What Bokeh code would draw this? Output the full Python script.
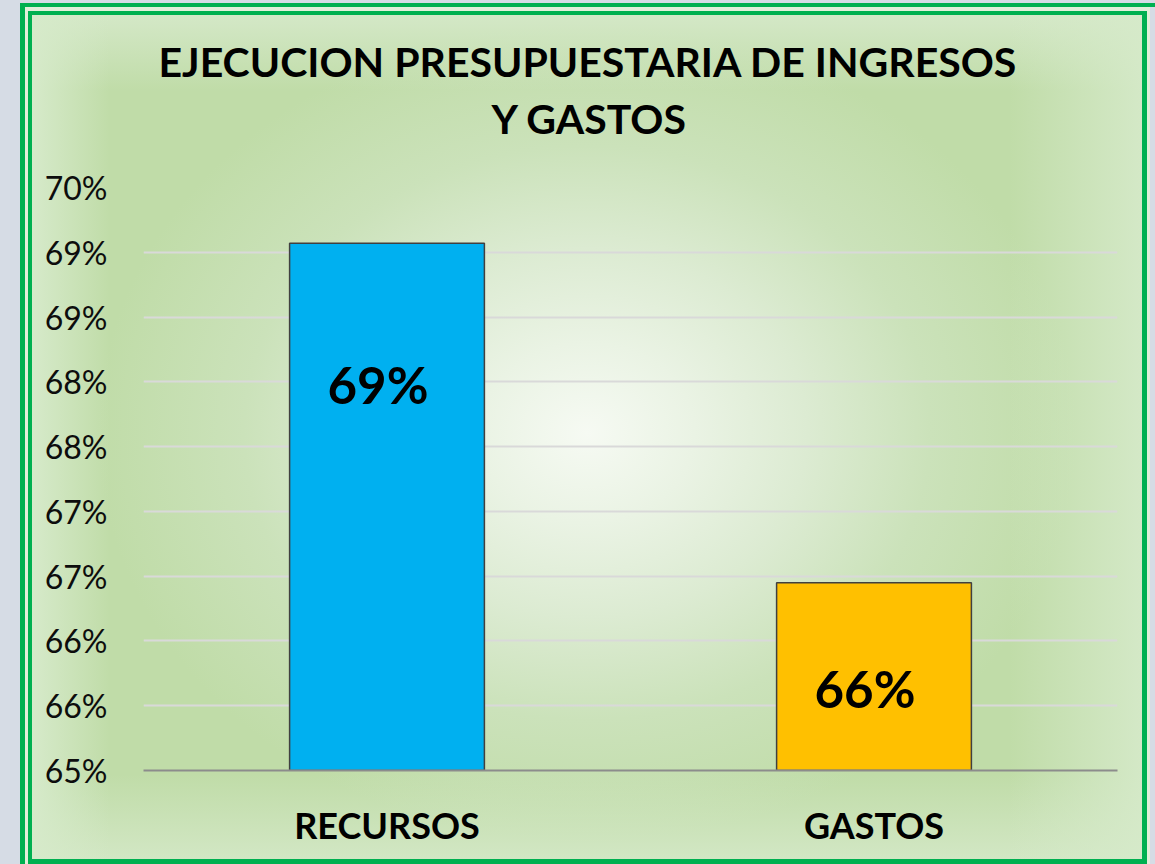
from bokeh.plotting import figure
from bokeh.models import (Range1d, FixedTicker, Title, ColumnDataSource,
                          FactorRange, CustomJSTickFormatter)
from bokeh.core.properties import value
from bokeh.embed import file_html
from bokeh.resources import INLINE

# ---------------- data ----------------
categories = ["RECURSOS", "GASTOS"]
values = [0.6907, 0.6645]
bar_colors = ["#00B0F0", "#FFC000"]
tick_values = [0.65, 0.655, 0.66, 0.665, 0.67, 0.675, 0.68, 0.685, 0.69, 0.695]
tick_labels = ["65%", "66%", "66%", "67%", "67%", "68%", "68%", "69%", "69%", "70%"]
title_lines = ["EJECUCION PRESUPUESTARIA DE INGRESOS", "Y GASTOS"]

# ---------------- styles ----------------
FONT = "Lato"
label_drop_px = [141, 106]     # label distance below bar top (style)
W, H = 1155, 864

p = figure(x_range=FactorRange(*categories), y_range=Range1d(0.65, 0.695),
           width=W, height=H, output_backend="svg", toolbar_location=None,
           min_border_left=143, min_border_right=38, min_border_top=187,
           min_border_bottom=94)
p.background_fill_color = None
p.border_fill_color = None
p.outline_line_color = None

# ---- chart-area background: double green border + soft green gradient ----
G = "#00B050"
def solid(c, x, y, w, h):
    return f"linear-gradient({c},{c}) {x}px {y}px / {w}px {h}px no-repeat"

layers = [
    solid(G, 28, 11, 1119, 4),      # inner border top
    solid(G, 28, 11, 4, 853),       # inner border left
    solid(G, 1142, 11, 5, 853),     # inner border right
    solid(G, 28, 859, 1119, 5),     # inner border bottom
    solid(G, 20, 3, 1135, 4),       # outer border top
    solid(G, 20, 3, 5, 861),        # outer border left
    # edge lightening
    "linear-gradient(to right, rgba(214,234,202,1) 0%, rgba(214,234,202,0) 7%, "
    "rgba(214,234,202,0) 88%, rgba(214,234,202,0.9) 100%) 32px 15px / 1110px 844px no-repeat",
    "linear-gradient(to bottom, rgba(212,232,199,1) 0%, rgba(212,232,199,0) 9%, "
    "rgba(212,232,199,0) 90%, rgba(212,232,199,0.9) 100%) 32px 15px / 1110px 844px no-repeat",
    # central glow
    "radial-gradient(ellipse 490px 410px at 555px 418px, #F6FAF3 0%, #EAF3E4 22%, "
    "#DCEBD2 45%, #CBE2BA 70%, rgba(192,220,168,0) 100%) 32px 15px / 1110px 844px no-repeat",
    solid("#C0DCA8", 32, 15, 1110, 844),   # base green
    solid("#E2EFDA", 25, 7, 1125, 857),    # gap between borders
]
p.styles = {"background": ", ".join(layers) + ", #D6DCE5"}

# ---- grid & axes ----
p.xgrid.visible = False
p.ygrid.ticker = FixedTicker(ticks=tick_values)
p.ygrid.grid_line_color = "#D9D9D9"
p.ygrid.grid_line_width = 2

p.yaxis.ticker = FixedTicker(ticks=tick_values)
p.yaxis.formatter = CustomJSTickFormatter(args=dict(tv=tick_values, tl=tick_labels), code="""
let best = 0;
for (let i = 0; i < tv.length; i++) {
  if (Math.abs(tv[i] - tick) < Math.abs(tv[best] - tick)) best = i;
}
return tl[best];
""")
p.yaxis.axis_line_color = None
p.yaxis.major_tick_line_color = None
p.yaxis.minor_tick_line_color = None
p.yaxis.major_label_standoff = 30
p.yaxis.major_label_text_font = FONT
p.yaxis.major_label_text_font_size = "32px"
p.yaxis.major_label_text_color = "#0D0D0D"

p.xaxis.axis_line_color = "#8C8C8C"
p.xaxis.axis_line_width = 2
p.xaxis.major_tick_line_color = None
p.xaxis.minor_tick_line_color = None
p.xaxis.major_label_standoff = 26
p.xaxis.major_label_text_font = FONT
p.xaxis.major_label_text_font_size = "36px"
p.xaxis.major_label_text_font_style = "bold"
p.xaxis.major_label_text_color = "#000000"

# ---- bars ----
src = ColumnDataSource(dict(
    x=categories, top=values, color=bar_colors,
    label=[f"{round(v * 100)}%" for v in values],
    dy=label_drop_px,
))
p.vbar(x="x", top="top", bottom=0.65, width=0.4, fill_color="color",
       line_color="#404040", line_width=1.5, source=src)
p.text(x="x", y="top", text="label", y_offset="dy", x_offset=-9, source=src,
       text_align="center", text_baseline="middle", text_font=value(FONT),
       text_font_size="51px", text_font_style="bold", text_color="#000000")

# ---- title (two lines) ----
p.add_layout(Title(text=title_lines[1], align="left", offset=348, standoff=90, text_font=FONT,
                   text_font_size="41px", text_font_style="bold", text_color="#000000"), "above")
p.add_layout(Title(text=title_lines[0], align="left", offset=15, standoff=-78, text_font=FONT,
                   text_font_size="41px", text_font_style="bold", text_color="#000000"), "above")

html = file_html(p, INLINE)
html = html.replace("<body>", '<body style="background-color:#D6DCE5;">', 1)
open("out.html", "w").write(html)
